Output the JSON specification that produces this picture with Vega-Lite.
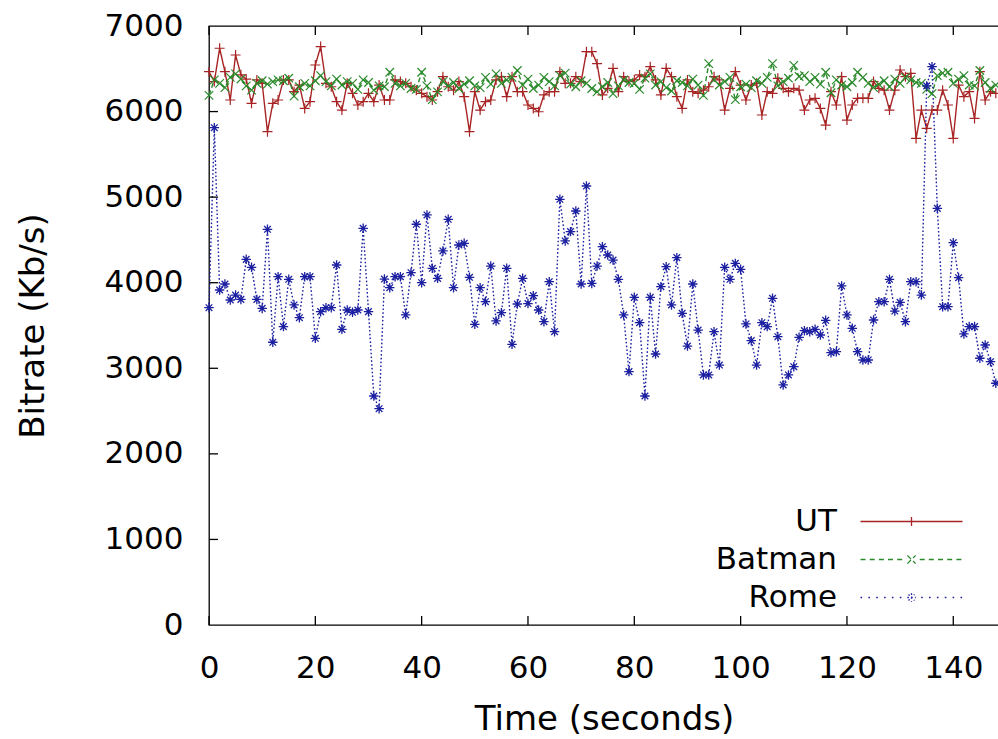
{
  "$schema": "https://vega.github.io/schema/vega-lite/v6.json",
  "width": 790,
  "height": 599,
  "autosize": {"type": "none"},
  "padding": {"left": 209, "top": 26, "right": -1, "bottom": 114},
  "background": "white",
  "config": {
    "font": "DejaVu Sans",
    "view": {"stroke": "#000", "strokeWidth": 1.3},
    "axis": {"grid": false, "domainColor": "#000", "tickColor": "#000", "labelColor": "#000", "titleColor": "#000", "labelFont": "DejaVu Sans", "titleFont": "DejaVu Sans", "titleFontWeight": "normal"}
  },
  "datasets": {
    "rates": [
    {"t":0,"UT":6466,"Batman":6190,"Rome":3708},{"t":1,"UT":6350,"Batman":6370,"Rome":5812},{"t":2,"UT":6740,"Batman":6330,"Rome":3915},{"t":3,"UT":6466,"Batman":6280,"Rome":3985},{"t":4,"UT":6135,"Batman":6400,"Rome":3798},{"t":5,"UT":6661,"Batman":6440,"Rome":3856},{"t":6,"UT":6430,"Batman":6380,"Rome":3805},{"t":7,"UT":6380,"Batman":6300,"Rome":4273},{"t":8,"UT":6096,"Batman":6250,"Rome":4180},{"t":9,"UT":6370,"Batman":6330,"Rome":3805},
    {"t":10,"UT":6330,"Batman":6360,"Rome":3700},{"t":11,"UT":5765,"Batman":6320,"Rome":4624},{"t":12,"UT":6096,"Batman":6350,"Rome":3304},{"t":13,"UT":6135,"Batman":6370,"Rome":4071},{"t":14,"UT":6370,"Batman":6360,"Rome":3487},{"t":15,"UT":6370,"Batman":6390,"Rome":4040},{"t":16,"UT":6233,"Batman":6180,"Rome":3740},{"t":17,"UT":6310,"Batman":6290,"Rome":3591},{"t":18,"UT":6037,"Batman":6330,"Rome":4071},{"t":19,"UT":6116,"Batman":6300,"Rome":4071},
    {"t":20,"UT":6544,"Batman":6360,"Rome":3350},{"t":21,"UT":6759,"Batman":6420,"Rome":3662},{"t":22,"UT":6330,"Batman":6350,"Rome":3708},{"t":23,"UT":6290,"Batman":6300,"Rome":3708},{"t":24,"UT":6116,"Batman":6380,"Rome":4207},{"t":25,"UT":6018,"Batman":6310,"Rome":3455},{"t":26,"UT":6330,"Batman":6350,"Rome":3681},{"t":27,"UT":6213,"Batman":6330,"Rome":3654},{"t":28,"UT":6077,"Batman":6260,"Rome":3681},{"t":29,"UT":6116,"Batman":6370,"Rome":4636},
    {"t":30,"UT":6213,"Batman":6340,"Rome":3662},{"t":31,"UT":6116,"Batman":6250,"Rome":2676},{"t":32,"UT":6310,"Batman":6300,"Rome":2528},{"t":33,"UT":6135,"Batman":6290,"Rome":4043},{"t":34,"UT":6135,"Batman":6460,"Rome":3942},{"t":35,"UT":6370,"Batman":6330,"Rome":4071},{"t":36,"UT":6350,"Batman":6300,"Rome":4071},{"t":37,"UT":6330,"Batman":6330,"Rome":3623},{"t":38,"UT":6290,"Batman":6270,"Rome":4117},{"t":39,"UT":6250,"Batman":6260,"Rome":4683},
    {"t":40,"UT":6213,"Batman":6460,"Rome":4000},{"t":41,"UT":6174,"Batman":6300,"Rome":4792},{"t":42,"UT":6135,"Batman":6140,"Rome":4168},{"t":43,"UT":6233,"Batman":6230,"Rome":4051},{"t":44,"UT":6408,"Batman":6350,"Rome":4371},{"t":45,"UT":6290,"Batman":6300,"Rome":4741},{"t":46,"UT":6250,"Batman":6340,"Rome":3942},{"t":47,"UT":6350,"Batman":6270,"Rome":4441},{"t":48,"UT":6174,"Batman":6320,"Rome":4460},{"t":49,"UT":5765,"Batman":6360,"Rome":4063},
    {"t":50,"UT":6233,"Batman":6300,"Rome":3514},{"t":51,"UT":6018,"Batman":6280,"Rome":3942},{"t":52,"UT":6116,"Batman":6400,"Rome":3778},{"t":53,"UT":6135,"Batman":6320,"Rome":4195},{"t":54,"UT":6370,"Batman":6440,"Rome":3553},{"t":55,"UT":6408,"Batman":6330,"Rome":3650},{"t":56,"UT":6174,"Batman":6370,"Rome":4168},{"t":57,"UT":6408,"Batman":6400,"Rome":3280},{"t":58,"UT":6233,"Batman":6480,"Rome":3751},{"t":59,"UT":6233,"Batman":6310,"Rome":4051},
    {"t":60,"UT":6077,"Batman":6380,"Rome":3756},{"t":61,"UT":6037,"Batman":6270,"Rome":3849},{"t":62,"UT":5998,"Batman":6310,"Rome":3681},{"t":63,"UT":6194,"Batman":6400,"Rome":3545},{"t":64,"UT":6233,"Batman":6350,"Rome":4012},{"t":65,"UT":6233,"Batman":6300,"Rome":3428},{"t":66,"UT":6466,"Batman":6420,"Rome":4975},{"t":67,"UT":6330,"Batman":6450,"Rome":4488},{"t":68,"UT":6330,"Batman":6320,"Rome":4597},{"t":69,"UT":6408,"Batman":6290,"Rome":4838},
    {"t":70,"UT":6350,"Batman":6360,"Rome":3985},{"t":71,"UT":6700,"Batman":6330,"Rome":5130},{"t":72,"UT":6700,"Batman":6270,"Rome":3992},{"t":73,"UT":6560,"Batman":6230,"Rome":4195},{"t":74,"UT":6194,"Batman":6290,"Rome":4421},{"t":75,"UT":6272,"Batman":6340,"Rome":4324},{"t":76,"UT":6505,"Batman":6210,"Rome":4265},{"t":77,"UT":6233,"Batman":6300,"Rome":4040},{"t":78,"UT":6408,"Batman":6370,"Rome":3623},{"t":79,"UT":6350,"Batman":6340,"Rome":2961},
    {"t":80,"UT":6370,"Batman":6330,"Rome":3829},{"t":81,"UT":6428,"Batman":6260,"Rome":3533},{"t":82,"UT":6408,"Batman":6390,"Rome":2676},{"t":83,"UT":6525,"Batman":6440,"Rome":3829},{"t":84,"UT":6370,"Batman":6310,"Rome":3167},{"t":85,"UT":6194,"Batman":6350,"Rome":3954},{"t":86,"UT":6505,"Batman":6280,"Rome":4187},{"t":87,"UT":6408,"Batman":6240,"Rome":3740},{"t":88,"UT":6174,"Batman":6360,"Rome":4293},{"t":89,"UT":6037,"Batman":6340,"Rome":3642},
    {"t":90,"UT":6370,"Batman":6300,"Rome":3260},{"t":91,"UT":6233,"Batman":6380,"Rome":3985},{"t":92,"UT":6213,"Batman":6310,"Rome":3447},{"t":93,"UT":6250,"Batman":6190,"Rome":2922},{"t":94,"UT":6290,"Batman":6560,"Rome":2922},{"t":95,"UT":6408,"Batman":6370,"Rome":3428},{"t":96,"UT":6370,"Batman":6310,"Rome":3038},{"t":97,"UT":6018,"Batman":6350,"Rome":4180},{"t":98,"UT":6272,"Batman":6400,"Rome":4040},{"t":99,"UT":6466,"Batman":6140,"Rome":4226},
    {"t":100,"UT":6310,"Batman":6290,"Rome":4156},{"t":101,"UT":6135,"Batman":6320,"Rome":3518},{"t":102,"UT":6310,"Batman":6280,"Rome":3323},{"t":103,"UT":6330,"Batman":6360,"Rome":3038},{"t":104,"UT":5960,"Batman":6330,"Rome":3533},{"t":105,"UT":6233,"Batman":6400,"Rome":3487},{"t":106,"UT":6213,"Batman":6560,"Rome":3818},{"t":107,"UT":6389,"Batman":6300,"Rome":3369},{"t":108,"UT":6272,"Batman":6350,"Rome":2805},{"t":109,"UT":6233,"Batman":6390,"Rome":2922},
    {"t":110,"UT":6272,"Batman":6540,"Rome":3019},{"t":111,"UT":6250,"Batman":6410,"Rome":3362},{"t":112,"UT":6018,"Batman":6420,"Rome":3440},{"t":113,"UT":6135,"Batman":6350,"Rome":3428},{"t":114,"UT":6155,"Batman":6400,"Rome":3455},{"t":115,"UT":6037,"Batman":6320,"Rome":3389},{"t":116,"UT":5842,"Batman":6460,"Rome":3561},{"t":117,"UT":6233,"Batman":6220,"Rome":3182},{"t":118,"UT":6077,"Batman":6370,"Rome":3194},{"t":119,"UT":6408,"Batman":6310,"Rome":3962},
    {"t":120,"UT":5901,"Batman":6290,"Rome":3623},{"t":121,"UT":6077,"Batman":6340,"Rome":3467},{"t":122,"UT":6155,"Batman":6460,"Rome":3194},{"t":123,"UT":6155,"Batman":6400,"Rome":3097},{"t":124,"UT":6155,"Batman":6330,"Rome":3097},{"t":125,"UT":6350,"Batman":6280,"Rome":3564},{"t":126,"UT":6272,"Batman":6320,"Rome":3778},{"t":127,"UT":6250,"Batman":6360,"Rome":3778},{"t":128,"UT":6018,"Batman":6290,"Rome":4040},{"t":129,"UT":6250,"Batman":6380,"Rome":3669},
    {"t":130,"UT":6486,"Batman":6330,"Rome":3770},{"t":131,"UT":6408,"Batman":6400,"Rome":3545},{"t":132,"UT":6447,"Batman":6370,"Rome":4012},{"t":133,"UT":5686,"Batman":6340,"Rome":4012},{"t":134,"UT":6018,"Batman":6330,"Rome":3856},{"t":135,"UT":5804,"Batman":6260,"Rome":6300},{"t":136,"UT":6018,"Batman":6210,"Rome":6525},{"t":137,"UT":6018,"Batman":6420,"Rome":4869},{"t":138,"UT":6250,"Batman":6450,"Rome":3720},{"t":139,"UT":6077,"Batman":6460,"Rome":3720},
    {"t":140,"UT":5686,"Batman":6330,"Rome":4468},{"t":141,"UT":6310,"Batman":6380,"Rome":4059},{"t":142,"UT":6174,"Batman":6420,"Rome":3401},{"t":143,"UT":6233,"Batman":6310,"Rome":3487},{"t":144,"UT":5920,"Batman":6300,"Rome":3487},{"t":145,"UT":6466,"Batman":6480,"Rome":3117},{"t":146,"UT":6135,"Batman":6340,"Rome":3272},{"t":147,"UT":6233,"Batman":6270,"Rome":3077},{"t":148,"UT":6213,"Batman":6310,"Rome":2825}
    ],
    "xticks": [{"tx":0},{"tx":20},{"tx":40},{"tx":60},{"tx":80},{"tx":100},{"tx":120},{"tx":140}],
    "yticks": [{"ty":1000},{"ty":2000},{"ty":3000},{"ty":4000},{"ty":5000},{"ty":6000}]
  },
  "layer": [
    {
      "data": {"name": "rates"},
      "transform": [{"fold": ["UT", "Batman", "Rome"], "as": ["series", "v"]}],
      "mark": {"type": "line", "strokeWidth": 1.4},
      "encoding": {
        "x": {"field": "t", "type": "quantitative", "scale": {"domain": [0, 148.6], "nice": false, "zero": false},
          "axis": {"orient": "bottom", "values": [0, 20, 40, 60, 80, 100, 120, 140], "ticks": false, "domain": false, "labelFontSize": 31, "labelPadding": 28, "labelFlush": false, "labelOverlap": false, "title": "Time (seconds)", "titleFontSize": 34, "titlePadding": 19}},
        "y": {"field": "v", "type": "quantitative", "scale": {"domain": [0, 7000], "nice": false},
          "axis": {"orient": "left", "values": [0, 1000, 2000, 3000, 4000, 5000, 6000, 7000], "format": "d", "ticks": false, "domain": false, "labelFontSize": 31, "labelPadding": 26, "labelFlush": false, "labelOverlap": false, "title": "Bitrate (Kb/s)", "titleFontSize": 34, "titlePadding": 54}},
        "color": {"field": "series", "type": "nominal",
          "scale": {"domain": ["UT", "Batman", "Rome"], "range": ["#a82424", "#2a8a2a", "#1c20a0"]},
          "legend": {
            "orient": "none", "legendX": 687, "legendY": 480, "title": null, "padding": 0,
            "labelFontSize": 31, "labelFont": "DejaVu Sans", "labelColor": "#000", "labelAlign": "right", "labelOffset": -90,
            "symbolSize": 400, "symbolStrokeWidth": 1.3, "symbolOffset": 0, "rowPadding": 6,
            "encode": {"symbols": {"update": {
              "shape": {"signal": "datum.value === 'UT' ? 'M-5.1,0L5.1,0M0,-0.45L0,0.45' : datum.value === 'Batman' ? 'M-5.1,0L-4.49,0M-4.18,0L-3.57,0M-3.26,0L-2.65,0M-2.35,0L-1.73,0M-1.43,0L-0.82,0M-0.41,-0.41L0.41,0.41M-0.41,0.41L0.41,-0.41M0.82,0L1.43,0M1.73,0L2.35,0M2.65,0L3.26,0M3.57,0L4.18,0M4.49,0L5.1,0' : 'M-5.1,0L-4.9,0M-4.31,0L-4.11,0M-3.53,0L-3.33,0M-2.74,0L-2.54,0M-1.96,0L-1.75,0M-1.17,0L-0.97,0M-0.42,0L0.42,0M0,-0.42L0,0.42M-0.3,-0.3L0.3,0.3M-0.3,0.3L0.3,-0.3M0.97,0L1.17,0M1.75,0L1.96,0M2.54,0L2.74,0M3.33,0L3.53,0M4.11,0L4.31,0M4.9,0L5.1,0'"},
              "fill": {"value": "transparent"},
              "stroke": {"scale": "color", "field": "value"},
              "strokeWidth": {"value": 1.3},
              "opacity": {"value": 1},
              "strokeDash": {"value": [1, 0]},
              "size": {"value": 400}
            }}}
          }},
        "strokeDash": {"field": "series", "type": "nominal", "scale": {"domain": ["UT", "Batman", "Rome"], "range": [[1, 0], [5, 3], [1.6, 2.2]]}, "legend": null}
      }
    },
    {
      "data": {"name": "rates"},
      "transform": [{"fold": ["UT"], "as": ["series", "v"]}],
      "mark": {"type": "point", "filled": false, "strokeWidth": 1.2, "opacity": 1, "size": 100, "color": "#a82424", "shape": "M-1,0L1,0M0,-1L0,1"},
      "encoding": {
        "x": {"field": "t", "type": "quantitative"},
        "y": {"field": "v", "type": "quantitative"}
      }
    },
    {
      "data": {"name": "rates"},
      "transform": [{"fold": ["Batman"], "as": ["series", "v"]}],
      "mark": {"type": "point", "filled": false, "strokeWidth": 1.2, "opacity": 1, "size": 72, "color": "#2a8a2a", "shape": "M-1,-1L1,1M-1,1L1,-1"},
      "encoding": {
        "x": {"field": "t", "type": "quantitative"},
        "y": {"field": "v", "type": "quantitative"}
      }
    },
    {
      "data": {"name": "rates"},
      "transform": [{"fold": ["Rome"], "as": ["series", "v"]}],
      "mark": {"type": "point", "filled": false, "strokeWidth": 1.3, "opacity": 1, "size": 90, "color": "#1c20a0", "shape": "M-1,0L1,0M0,-1L0,1M-0.7,-0.7L0.7,0.7M-0.7,0.7L0.7,-0.7"},
      "encoding": {
        "x": {"field": "t", "type": "quantitative"},
        "y": {"field": "v", "type": "quantitative"}
      }
    },
    {
      "data": {"name": "xticks"},
      "mark": {"type": "tick", "orient": "vertical", "size": 9, "thickness": 1.3, "color": "#000", "opacity": 1, "yOffset": -4.5},
      "encoding": {
        "x": {"field": "tx", "type": "quantitative"},
        "y": {"datum": 0, "type": "quantitative"}
      }
    },
    {
      "data": {"name": "xticks"},
      "mark": {"type": "tick", "orient": "vertical", "size": 9, "thickness": 1.3, "color": "#000", "opacity": 1, "yOffset": 4.5},
      "encoding": {
        "x": {"field": "tx", "type": "quantitative"},
        "y": {"datum": 7000, "type": "quantitative"}
      }
    },
    {
      "data": {"name": "yticks"},
      "mark": {"type": "tick", "orient": "horizontal", "size": 9, "thickness": 1.3, "color": "#000", "opacity": 1, "xOffset": 4.5},
      "encoding": {
        "y": {"field": "ty", "type": "quantitative"},
        "x": {"datum": 0, "type": "quantitative"}
      }
    }
  ]
}
